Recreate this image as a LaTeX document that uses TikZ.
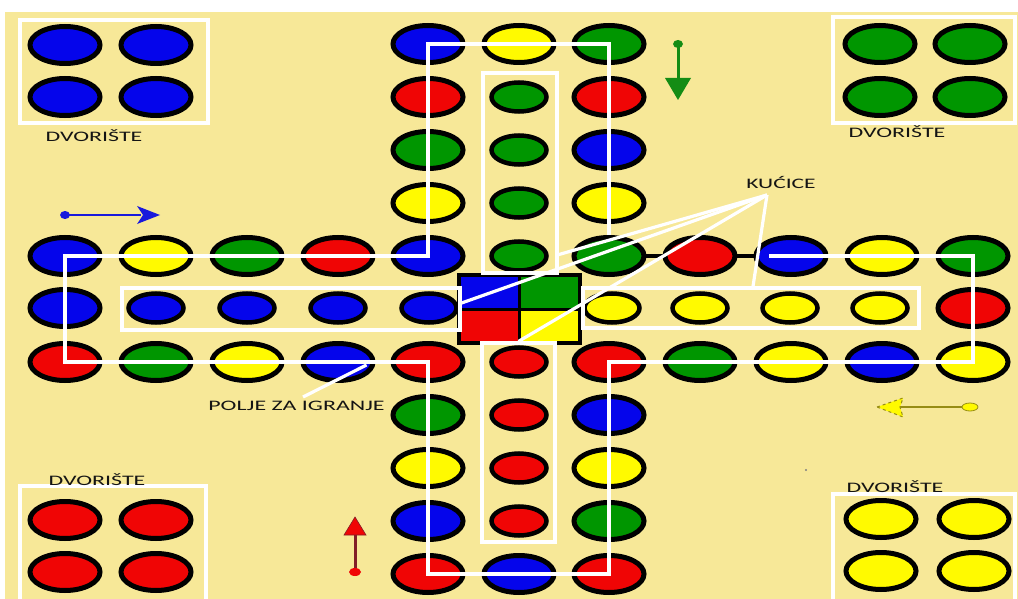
\documentclass[tikz,border=0pt]{standalone}
\usepackage{fontspec}
\setmainfont{Carlito}
\usetikzlibrary{shapes.geometric}
\definecolor{bgc}{RGB}{247,232,152}
\definecolor{cb}{RGB}{5,5,235}
\definecolor{cr}{RGB}{240,5,5}
\definecolor{cg}{RGB}{0,150,0}
\definecolor{cy}{RGB}{255,250,0}
\definecolor{tx}{RGB}{20,20,20}
\definecolor{arb}{RGB}{25,25,220}
\definecolor{arg}{RGB}{20,140,20}
\definecolor{ary}{RGB}{150,140,20}
\definecolor{arr}{RGB}{130,30,40}
\pgfdeclarelayer{back}
\pgfsetlayers{back,main}
\begin{document}
\begin{tikzpicture}[x=1pt,y=-1pt,
 big/.style={ellipse,draw=black,line width=5pt,minimum width=70pt,minimum height=37pt,inner sep=0pt},
 hom/.style={ellipse,draw=black,line width=4.5pt,minimum width=55pt,minimum height=29pt,inner sep=0pt},
 wl/.style={draw=white,line width=3.2pt},
 wbox/.style={draw=white,line width=3.2pt,inner sep=0pt},
 conn/.style={draw=black,line width=4pt},
 lbl/.style={text=tx,font=\fontsize{14.5}{16}\selectfont,inner sep=0pt,anchor=base}]
\useasboundingbox (0,0) rectangle (1018,599);
\begin{pgfonlayer}{back}
\fill[white] (0,0) rectangle (1018,599);
\fill[bgc] (5,12) rectangle (1018,599);
\end{pgfonlayer}
% track circles
\foreach \n/\x/\y/\c in {
 a1/428/44/cb, a2/428/97/cr, a3/428/150/cg, a4/428/203/cy, a5/428/256/cb,
 a0/519/44/cy,
 b1/609/44/cg, b2/609/97/cr, b3/609/150/cb, b4/609/203/cy, b5/609/256/cg,
 b6/700/256/cr, b7/791/256/cb, b8/882/256/cy, b9/973/256/cg,
 c0/973/308/cr,
 c1/973/362/cy, c2/882/362/cb, c3/791/362/cy, c4/700/362/cg, c5/609/362/cr,
 c6/609/415/cb, c7/609/468/cy, c8/609/521/cg, c9/609/574/cr,
 d0/519/574/cb,
 d1/428/574/cr, d2/428/521/cb, d3/428/468/cy, d4/428/415/cg, d5/428/362/cr,
 d6/338/362/cb, d7/247/362/cy, d8/156/362/cg, d9/65/362/cr,
 e0/65/308/cb,
 e1/65/256/cb, e2/156/256/cy, e3/247/256/cg, e4/338/256/cr}
 \node[big,fill=\c] (\n) at (\x,\y) {};
% connectors behind the track circles
\begin{pgfonlayer}{back}
\draw[conn] (a1.center) -- (b1.center) -- (b5.center) -- (b9.center) -- (c1.center) -- (c5.center)
 -- (c9.center) -- (d1.center) -- (d5.center) -- (d9.center) -- (e1.center) -- (a5.center) -- cycle;
\end{pgfonlayer}
% home circles
\foreach \n/\x/\y/\c in {
 g1/519/97/cg, g2/519/150/cg, g3/519/203/cg, g4/519/256/cg,
 l1/156/308/cb, l2/247/308/cb, l3/338/308/cb, l4/429/308/cb,
 y1/612/308/cy, y2/700/308/cy, y3/790/308/cy, y4/880/308/cy,
 r1/519/362/cr, r2/519/415/cr, r3/519/468/cr, r4/519/521/cr}
 \node[hom,fill=\c] (\n) at (\x,\y) {};
% yard circles
\foreach \n/\x/\y/\c in {
 p1/65/45/cb, p2/156/45/cb, p3/65/97/cb, p4/156/97/cb,
 q1/880/44/cg, q2/970/44/cg, q3/880/97/cg, q4/970/97/cg,
 s1/65/520/cr, s2/156/520/cr, s3/65/572/cr, s4/156/572/cr,
 u1/881/519/cy, u2/974/519/cy, u3/881/571/cy, u4/974/571/cy}
 \node[big,fill=\c] (\n) at (\x,\y) {};
% centre square
\node[minimum width=121pt,minimum height=68pt,inner sep=0pt] (sq) at (519.5,309) {};
\fill[cb] (sq.north west) rectangle (sq.center);
\fill[cg] (sq.north east) rectangle (sq.center);
\fill[cr] (sq.south west) rectangle (sq.center);
\fill[cy] (sq.south east) rectangle (sq.center);
\draw[line width=3pt] (sq.north) -- (sq.south) (sq.west) -- (sq.east);
\draw[line width=4pt] (sq.north west) rectangle (sq.south east);
% home boxes
\node[wbox,minimum width=74pt,minimum height=200pt] (ht) at (520,173) {};
\node[wbox,minimum width=73pt,minimum height=199pt] (hb) at (518.5,442.5) {};
\node[wbox,minimum width=338pt,minimum height=42pt] (hl) at (291,309) {};
\node[wbox,minimum width=336pt,minimum height=40pt] (hr) at (751,308) {};
% yard boxes
\draw[wl] (20,20) rectangle (208,123);
\draw[wl] (833,17) rectangle (1015,123);
\draw[wl] (20,600) |- (206,486) -- (206,600);
\draw[wl] (833,600) |- (1015,494) -- (1015,600);
% white track path
\draw[wl] (b5.north) -- (b1.center) -- (a1.center) -- (a5.center) -- (e1.center) -- (d9.center)
 -- (d5.center) -- (d1.center) -- (c9.center) -- (c5.center) -- (c1.center) -- (b9.center)
 -- ([xshift=-22pt]b7.center);
% labels
\node[lbl] (dv1) at (94,142) {\scalebox{1.65}[1]{DVORIŠTE}};
\node[lbl] (dv2) at (897,138) {\scalebox{1.65}[1]{DVORIŠTE}};
\node[lbl] (dv3) at (97,485) {\scalebox{1.65}[1]{DVORIŠTE}};
\node[lbl] (dv4) at (895,492) {\scalebox{1.65}[1]{DVORIŠTE}};
\node[lbl] (kuc) at (781,189) {\scalebox{1.62}[1]{KUĆICE}};
\node[lbl] (polje) at (296.5,410) {\scalebox{1.65}[1]{POLJE ZA IGRANJE}};
% pointer lines
\coordinate (k) at (767,195);
\draw[wl] (k) -- ([yshift=6pt]hl.east);
\draw[wl] (k) -- ([yshift=20pt]ht.south east);
\draw[wl] (k) -- (hb.north);
\draw[wl] (k) -- ([xshift=2pt]hr.north);
\coordinate (pj) at (303,397);
\draw[wl] (pj) -- ([xshift=-9pt,yshift=-3pt]d6.east);
% direction arrows
\coordinate (ab0) at (65,215); \coordinate (ab1) at (160,215);
\fill[arb] (ab0) ellipse [x radius=5pt,y radius=4pt];
\draw[arb,line width=2.5pt] (ab0) -- (141,215);
\fill[arb] (ab1) -- (137,206) -- (143,215) -- (137,224) -- cycle;
\coordinate (ag0) at (678,44); \coordinate (ag1) at (678,100);
\fill[arg] (ag0) ellipse [x radius=5pt,y radius=4pt];
\draw[arg,line width=3pt] (ag0) -- (678,82);
\fill[arg] (ag1) -- (665,78) -- (691,78) -- cycle;
\coordinate (ay0) at (970,407); \coordinate (ay1) at (877,407);
\draw[ary,line width=2pt] (ay0) -- (900,407);
\filldraw[fill=cy,draw=ary,line width=0.8pt] (ay0) ellipse [x radius=8pt,y radius=4pt];
\filldraw[fill=cy,draw=ary,line width=1pt,dashed] (ay1) -- (903,398) -- (900,407) -- (903,417) -- cycle;
\coordinate (ar0) at (355,572); \coordinate (ar1) at (355,517);
\draw[arr,line width=3pt] (ar0) -- (355,533);
\fill[cr] (ar0) ellipse [x radius=6pt,y radius=4pt];
\filldraw[fill=cr,draw=arr,line width=0.6pt] (ar1) -- (344,535) -- (366,535) -- cycle;
% speck
\fill[gray] (806,470) circle [radius=1.2pt];
\end{tikzpicture}
\end{document}
